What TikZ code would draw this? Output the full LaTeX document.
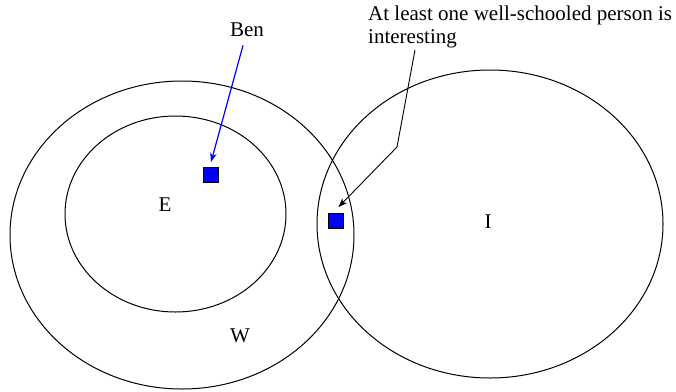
\documentclass[tikz,border=0pt]{standalone}
\usepackage{fontspec}
\setmainfont{Liberation Serif}
\newfontfamily\timesfont{Liberation Serif}
\usetikzlibrary{arrows.meta}
\begin{document}
\begin{tikzpicture}[x=1pt,y=-1pt,
  setline/.style={line width=1pt},
  lbl/.style={inner sep=0pt,font=\timesfont\fontsize{21}{22.5}\selectfont},
  member/.style={draw=black,fill=blue,line width=0.8pt,minimum size=15pt,inner sep=0pt},
  pointer/.style={line width=0.9pt,-{Stealth[length=9pt,width=6.5pt,inset=2.5pt]}}]
\useasboundingbox (0,0) rectangle (676,391);
\draw[setline] (182,235) ellipse [x radius=172, y radius=154];
\draw[setline] (175.5,214) ellipse [x radius=110.5, y radius=98];
\draw[setline] (490,224) ellipse [x radius=173, y radius=154];
\node[lbl] (E) at (165,205) {E};
\node[lbl] (W) at (240,336) {W};
\node[lbl] (I) at (488,222) {I};
\node[member] (sq1) at (210.5,175) {};
\node[member] (sq2) at (335.5,221) {};
\node[lbl,anchor=base] (ben) at (247,36) {Ben};
\node[lbl,anchor=north west,align=left] (note) at (368,6) {At least one well-schooled person is\\interesting};
\coordinate (bend) at (397,147);
\draw[pointer,blue,line width=1.2pt] ([xshift=-4pt]ben.south) ++(0,9) -- ([xshift=0.5pt,yshift=5pt]sq1.north);
\draw[pointer] ([xshift=47pt,yshift=-2pt]note.south west) -- (bend) -- ([xshift=-5pt,yshift=6pt]sq2.north east);
\end{tikzpicture}
\end{document}
